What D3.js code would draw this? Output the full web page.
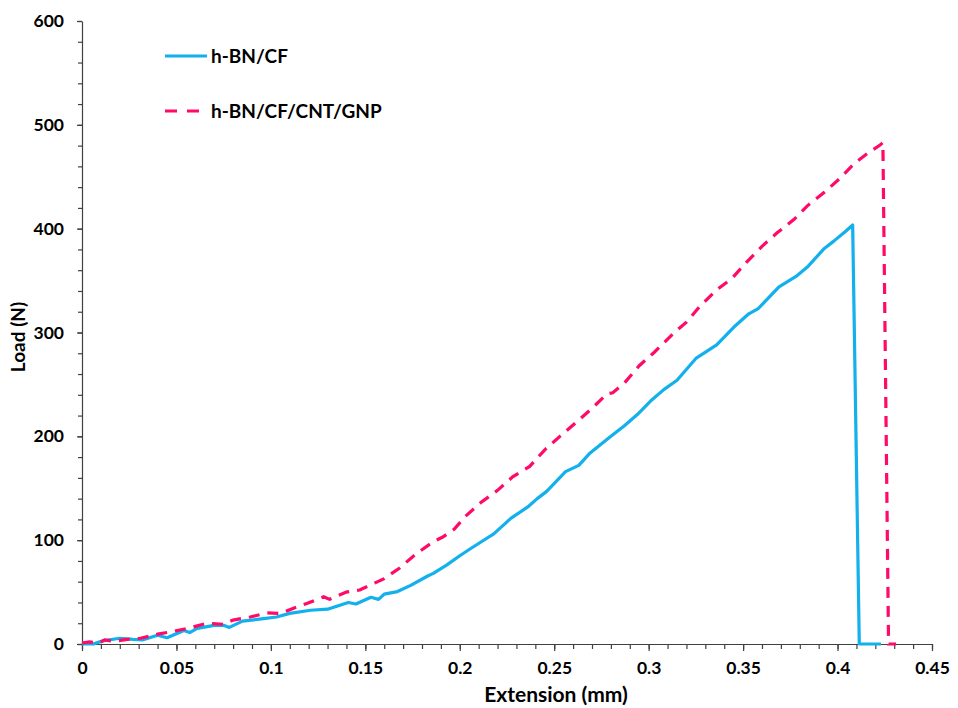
<!DOCTYPE html>
<html lang="en">
<head>
    <meta charset="UTF-8">
    <title>Load vs Extension</title>
    <style>
        body { margin: 0; background: #fff; }
        svg { display: block; }
        text {
          font-family: Lato, "Open Sans", sans-serif;
          font-weight: bold;
          fill: #000;
        }
        .axis path, .axis line { stroke: #404040; stroke-width: 1.2px; }
        .axis text { font-size: 17.5px; }
        .title { font-size: 19px; }
        .xtitle { font-size: 21px; }
        .legend text { font-size: 19px; }
    </style>
</head>
<body>
    <svg width="958" height="708"></svg>

    <script src="https://d3js.org/d3.v7.min.js"></script>
    <script>
        // h-BN/CF (solid blue)
        var blueX = [0, 0.006, 0.011, 0.020, 0.027, 0.032, 0.040, 0.045, 0.054, 0.057, 0.061, 0.070, 0.075, 0.078, 0.085,
                     0.094, 0.103, 0.110, 0.121, 0.130, 0.141, 0.145, 0.153, 0.157, 0.160, 0.167, 0.174, 0.183, 0.186, 0.193,
                     0.200, 0.205, 0.211, 0.218, 0.227, 0.236, 0.241, 0.246, 0.256, 0.263, 0.269, 0.280, 0.287, 0.294, 0.301,
                     0.308, 0.315, 0.325, 0.336, 0.345, 0.353, 0.358, 0.369, 0.378, 0.384, 0.393, 0.398, 0.404, 0.408, 0.4115, 0.423];
        var blueY = [0, 0, 3, 5.5, 4.5, 4, 8.5, 6, 13, 11, 15, 18, 18, 16, 22,
                     24, 26, 29.5, 32.5, 33.5, 40, 38.5, 45, 43, 48, 50.5, 56.5, 65.5, 68, 76,
                     85, 91, 98, 106, 121, 132, 140, 147, 166, 172, 184, 200, 210, 221, 234,
                     245, 254, 275, 288, 305, 318, 323, 344, 354, 363, 381, 388, 397, 403.5, 0, 0];

        // h-BN/CF/CNT/GNP (dashed pink)
        var pinkX = [0, 0.004, 0.009, 0.012, 0.017, 0.024, 0.031, 0.040, 0.048, 0.057, 0.066, 0.075, 0.080, 0.089, 0.098,
                     0.105, 0.112, 0.119, 0.128, 0.131, 0.140, 0.147, 0.153, 0.160, 0.168, 0.177, 0.186, 0.191, 0.197, 0.203,
                     0.211, 0.220, 0.228, 0.237, 0.245, 0.253, 0.262, 0.270, 0.278, 0.281, 0.287, 0.295, 0.303, 0.313, 0.320,
                     0.327, 0.336, 0.344, 0.352, 0.360, 0.368, 0.377, 0.384, 0.393, 0.401, 0.409, 0.417, 0.4225, 0.424, 0.427, 0.431];
        var pinkY = [1, 2, 1, 4, 2.5, 4.5, 5.5, 9.5, 12, 15.5, 20, 19, 23, 26, 30,
                     29.5, 34.5, 39, 45.5, 43, 50, 52, 57, 63, 73, 87, 98.5, 103, 110.5, 123,
                     136, 148, 161, 171, 187, 200, 214, 227, 241, 242, 251, 268, 281, 299, 310,
                     325, 341, 352, 368, 383, 396, 409, 422, 435, 448, 463, 474, 480.5, 483, 0, 0];

        var seriesNames = ["h-BN/CF", "h-BN/CF/CNT/GNP"];
        var xTicks = [0, 0.05, 0.1, 0.15, 0.2, 0.25, 0.3, 0.35, 0.4, 0.45];
        var yTicks = [0, 100, 200, 300, 400, 500, 600];

        var svg = d3.select("svg");

        var x = d3.scaleLinear().domain([0, 0.45]).range([82, 932]);
        var y = d3.scaleLinear().domain([0, 600]).range([644, 21]);

        // minor ticks first, then major axes on top
        svg.append("g")
            .attr("class", "axis")
            .attr("transform", "translate(0,644)")
            .call(d3.axisBottom(x).tickValues(d3.range(0, 0.4501, 0.01)).tickSize(5).tickFormat(""))
            .select(".domain").remove();

        svg.append("g")
            .attr("class", "axis")
            .attr("transform", "translate(82,0)")
            .call(d3.axisLeft(y).tickValues(d3.range(0, 601, 20)).tickSize(4).tickFormat(""))
            .select(".domain").remove();

        var xAxis = svg.append("g")
            .attr("class", "axis")
            .attr("transform", "translate(0,644)")
            .call(d3.axisBottom(x).tickValues(xTicks).tickSize(7).tickSizeOuter(0)
                .tickFormat(function(d) { return String(+d.toFixed(2)); }));
        xAxis.selectAll("text").attr("y", 30).attr("dy", 0);

        var yAxis = svg.append("g")
            .attr("class", "axis")
            .attr("transform", "translate(82,0)")
            .call(d3.axisLeft(y).tickValues(yTicks).tickSize(5).tickSizeOuter(0));
        yAxis.selectAll("text").attr("x", -18);

        var blue = blueX.map(function(d, i) { return [d, blueY[i]]; });
        var pink = pinkX.map(function(d, i) { return [d, pinkY[i]]; });

        var line = d3.line()
            .x(function(d) { return x(d[0]); })
            .y(function(d) { return y(d[1]); });

        svg.append("path")
            .datum(blue)
            .attr("d", line)
            .attr("fill", "none")
            .attr("stroke", "#12B0EC")
            .attr("stroke-width", 3.2)
            .attr("stroke-linejoin", "round");

        svg.append("path")
            .datum(pink)
            .attr("d", line)
            .attr("fill", "none")
            .attr("stroke", "#FF0A68")
            .attr("stroke-width", 3.2)
            .attr("stroke-dasharray", "11,8");

        // axis titles
        svg.append("text")
            .attr("class", "title xtitle")
            .attr("x", 556)
            .attr("y", 702)
            .attr("text-anchor", "middle")
            .text("Extension (mm)");

        svg.append("text")
            .attr("class", "title")
            .attr("transform", "translate(25,337) rotate(-90)")
            .attr("text-anchor", "middle")
            .text("Load (N)");

        // legend
        var legend = svg.append("g").attr("class", "legend");
        legend.append("line")
            .attr("x1", 165).attr("x2", 207).attr("y1", 56).attr("y2", 56)
            .attr("stroke", "#12B0EC").attr("stroke-width", 3.2);
        legend.append("line")
            .attr("x1", 165).attr("x2", 207).attr("y1", 111).attr("y2", 111)
            .attr("stroke", "#FF0A68").attr("stroke-width", 3.2)
            .attr("stroke-dasharray", "12,10");
        legend.selectAll("text.lbl")
            .data(seriesNames)
            .enter().append("text")
            .attr("class", "lbl")
            .attr("x", 211)
            .attr("y", function(d, i) { return i === 0 ? 63 : 118; })
            .text(function(d) { return d; });
    </script>
</body>
</html>
